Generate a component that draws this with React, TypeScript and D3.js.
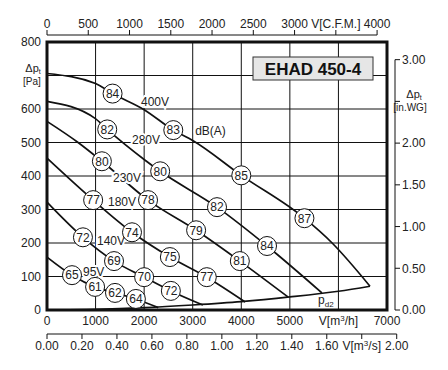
import * as d3 from "d3";

type Pt = [number, number]; // [V m3/h, dp Pa]

// fan curves per supply voltage
const CURVE_400V: Pt[] = [[0, 706], [1000, 676], [1350, 646], [2000, 598], [2600, 537], [3000, 506], [4000, 402], [5300, 274], [5870, 200], [6650, 71]];
const CURVE_280V: Pt[] = [[0, 623], [990, 572], [1240, 539], [2020, 447], [2330, 414], [3500, 307], [4530, 191], [5660, 51]];
const CURVE_230V: Pt[] = [[0, 563], [640, 500], [1130, 444], [2080, 328], [3070, 238], [3970, 146], [4960, 39]];
const CURVE_180V: Pt[] = [[0, 453], [950, 328], [1750, 232], [2530, 158], [3290, 98], [4080, 24]];
const CURVE_140V: Pt[] = [[0, 322], [740, 217], [1380, 146], [2000, 98], [2550, 57], [3210, 15]];
const CURVE_95V: Pt[] = [[0, 158], [515, 104], [990, 69], [1400, 51], [1830, 33], [2290, 7]];
const CURVE_PD2: Pt[] = [[0, 0], [1000, 2], [2000, 7], [3000, 15], [4000, 25], [5000, 39], [6000, 56], [6650, 71]];

const SPEED_CURVES = [CURVE_400V, CURVE_280V, CURVE_230V, CURVE_180V, CURVE_140V, CURVE_95V];

// sound level marks: [m3/h, Pa, dB(A)]
const DB_MARKS: [number, number, number][] = [
  [1350, 646, 84], [2600, 537, 83], [4000, 402, 85], [5300, 274, 87],
  [1240, 539, 82], [2330, 414, 80], [3500, 307, 82], [4530, 191, 84],
  [1130, 444, 80], [2080, 328, 78], [3070, 238, 79], [3970, 146, 81],
  [950, 328, 77], [1750, 232, 74], [2530, 158, 75], [3290, 98, 77],
  [740, 217, 72], [1380, 146, 69], [2000, 98, 70], [2550, 57, 72],
  [515, 104, 65], [990, 69, 61], [1400, 51, 62], [1830, 33, 64],
];

// text annotations: [label, m3/h, Pa]
const VOLT_LABELS: [string, number, number][] = [
  ["400V", 1935, 610], ["280V", 1750, 497], ["230V", 1359, 381],
  ["180V", 1256, 310], ["140V", 1030, 194], ["95V", 741, 101], ["dB(A)", 3050, 521],
];

const PA_TICKS = [0, 100, 200, 300, 400, 500, 600, 800];
const M3H_TICKS = [0, 1000, 2000, 3000, 4000, 5000, 7000];
const CFM_TICKS = [0, 500, 1000, 1500, 2000, 2500, 3000, 3500, 4000];
const M3S_TICKS = [0, 0.2, 0.4, 0.6, 0.8, 1.0, 1.2, 1.4, 1.6, 1.8, 2.0];
const WG_TICKS = [0, 0.5, 1.0, 1.5, 2.0, 2.5, 3.0];

const FONT = "'Liberation Sans', Arial, sans-serif";
const INK = "#222";

export default function App() {
  const x = d3.scaleLinear().domain([0, 7000]).range([47, 387]);
  const y = d3.scaleLinear().domain([0, 800]).range([310, 42]);
  const xCfm = d3.scaleLinear().domain([0, 4000]).range([x(0), x(4000 * 1.699)]);
  const xM3s = d3.scaleLinear().domain([0, 2]).range([x(0), x(7200)]);
  const yWg = d3.scaleLinear().domain([0, 3]).range([y(0), y(3 * 249.09)]);

  const line = d3
    .line<Pt>()
    .x((d) => x(d[0]))
    .y((d) => y(d[1]))
    .curve(d3.curveMonotoneX);

  const topY = 35;
  const m3sY = 334;
  const wgX = 395;

  return (
    <svg width={448} height={370} style={{ position: "absolute", left: 0, top: 0, background: "#fff" }} fontFamily={FONT}>
      {/* grid */}
      {d3.range(1000, 7000, 1000).map((v) => (
        <line key={"gx" + v} x1={x(v)} x2={x(v)} y1={y(0)} y2={y(800)} stroke="#111" strokeWidth={1} />
      ))}
      {d3.range(100, 800, 100).map((v) => (
        <line key={"gy" + v} x1={x(0)} x2={x(7000)} y1={y(v)} y2={y(v)} stroke="#111" strokeWidth={1} />
      ))}

      {/* title box */}
      <rect x={253} y={57} width={120} height={23} fill="#e6e6e6" stroke="#333" strokeWidth={1} />
      <text x={313} y={75} textAnchor="middle" fontSize={17} fontWeight="bold" fill="#111">
        EHAD 450-4
      </text>

      {/* curves */}
      {SPEED_CURVES.map((c, i) => (
        <path key={i} d={line(c) ?? ""} fill="none" stroke="#111" strokeWidth={1.7} />
      ))}
      <path d={line(CURVE_PD2) ?? ""} fill="none" stroke="#111" strokeWidth={1.7} />

      {/* voltage labels */}
      {VOLT_LABELS.map(([t, q, p]) => (
        <text key={t} x={x(q)} y={y(p)} fontSize={12} fill={INK} stroke="#fff" strokeWidth={4} paintOrder="stroke">
          {t}
        </text>
      ))}
      <text x={x(5580)} y={y(18)} fontSize={12} fill={INK} stroke="#fff" strokeWidth={3} paintOrder="stroke">
        p<tspan fontSize={8} dy={3}>d2</tspan>
      </text>

      {/* dB marks */}
      {DB_MARKS.map(([q, p, db], i) => (
        <g key={"db" + i} transform={`translate(${x(q)},${y(p)})`}>
          <circle r={9.5} fill="#fff" stroke="#111" strokeWidth={1} />
          <text textAnchor="middle" dy="0.36em" fontSize={12} fill={INK}>
            {db}
          </text>
        </g>
      ))}

      {/* frame */}
      <rect x={x(0)} y={y(800)} width={x(7000) - x(0)} height={y(0) - y(800)} fill="none" stroke="#111" strokeWidth={3} />

      {/* left Pa axis labels */}
      {PA_TICKS.map((v) => (
        <text key={"pa" + v} x={41} y={y(v)} dy="0.36em" textAnchor="end" fontSize={12} fill={INK}>
          {v}
        </text>
      ))}
      <text x={33} y={y(700) - 4} textAnchor="middle" fontSize={11} fill={INK}>
        Δp<tspan fontSize={7} dy={2}>t</tspan>
      </text>
      <text x={32} y={y(700) + 9} textAnchor="middle" fontSize={10} fill={INK}>
        [Pa]
      </text>

      {/* bottom m3/h labels */}
      {M3H_TICKS.map((v) => (
        <text key={"qh" + v} x={x(v)} y={325} textAnchor="middle" fontSize={12} fill={INK}>
          {v}
        </text>
      ))}
      <text x={x(6000)} y={325} textAnchor="middle" fontSize={12} fill={INK}>
        V[m<tspan fontSize={8} dy={-4}>3</tspan><tspan dy={4}>/h]</tspan>
      </text>

      {/* top CFM axis */}
      <line x1={xCfm(0)} x2={xCfm(4000)} y1={topY} y2={topY} stroke="#111" strokeWidth={1} />
      {CFM_TICKS.map((v) => (
        <g key={"cfm" + v}>
          <line x1={xCfm(v)} x2={xCfm(v)} y1={topY} y2={topY - 5} stroke="#111" strokeWidth={1} />
          <text x={xCfm(v)} y={topY - 7} textAnchor="middle" fontSize={12} fill={INK}>
            {v === 3500 ? "V[C.F.M.]" : v}
          </text>
        </g>
      ))}

      {/* bottom m3/s axis */}
      <line x1={xM3s(0)} x2={xM3s(2)} y1={m3sY} y2={m3sY} stroke="#111" strokeWidth={1} />
      {M3S_TICKS.map((v) => (
        <g key={"qs" + v}>
          <line x1={xM3s(v)} x2={xM3s(v)} y1={m3sY} y2={m3sY + 5} stroke="#111" strokeWidth={1} />
          <text x={xM3s(v)} y={350} textAnchor="middle" fontSize={12} fill={INK}>
            {Math.abs(v - 1.8) < 1e-6 ? (
              <>
                V[m<tspan fontSize={8} dy={-4}>3</tspan>
                <tspan dy={4}>/s]</tspan>
              </>
            ) : (
              v.toFixed(2)
            )}
          </text>
        </g>
      ))}

      {/* right in.WG axis */}
      <line x1={wgX} x2={wgX} y1={yWg(3)} y2={yWg(0)} stroke="#111" strokeWidth={1} />
      {WG_TICKS.map((v) => (
        <g key={"wg" + v}>
          <line x1={wgX} x2={wgX + 5} y1={yWg(v)} y2={yWg(v)} stroke="#111" strokeWidth={1} />
          {v !== 2.5 && (
            <text x={wgX + 7} y={yWg(v)} dy="0.36em" fontSize={12} fill={INK}>
              {v.toFixed(2)}
            </text>
          )}
        </g>
      ))}
      <text x={414} y={yWg(2.5) - 3} textAnchor="middle" fontSize={11} fill={INK}>
        Δp<tspan fontSize={7} dy={2}>t</tspan>
      </text>
      <text x={410} y={yWg(2.5) + 10} textAnchor="middle" fontSize={10} fill={INK}>
        [in.WG]
      </text>
    </svg>
  );
}
